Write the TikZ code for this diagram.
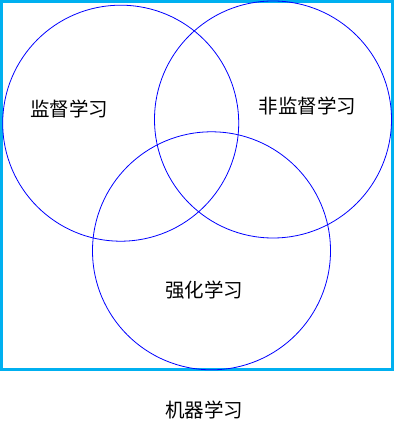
\documentclass[tikz,border=0pt]{standalone}
\usepackage{fontspec}
\newfontfamily\cjk{Noto Sans CJK SC}
\definecolor{frame}{RGB}{0,176,240}
\begin{document}
\begin{tikzpicture}[x=1pt,y=-1pt,
  venn/.style={draw=blue,line width=0.8pt},
  lbl/.style={font=\cjk\fontsize{19.5}{22}\selectfont,inner sep=0pt,text=black}]
\useasboundingbox (0,0) rectangle (407,435);
\draw[frame,line width=3pt] (1.5,1.5) rectangle (392.5,369.2);
\node[venn,circle,minimum size=236pt,inner sep=0pt] (sup) at (120.7,123.2) {};
\node[venn,circle,minimum size=237pt,inner sep=0pt] (uns) at (273,119.5) {};
\node[venn,circle,minimum size=238pt,inner sep=0pt] (rl) at (211.5,250.8) {};
\node[lbl] (tsup) at (69,109) {监督学习};
\node[lbl] (tuns) at (307.5,106) {非监督学习};
\node[lbl] (trl) at (204,290) {强化学习};
\node[lbl] (tml) at (204,410) {机器学习};
\end{tikzpicture}
\end{document}
